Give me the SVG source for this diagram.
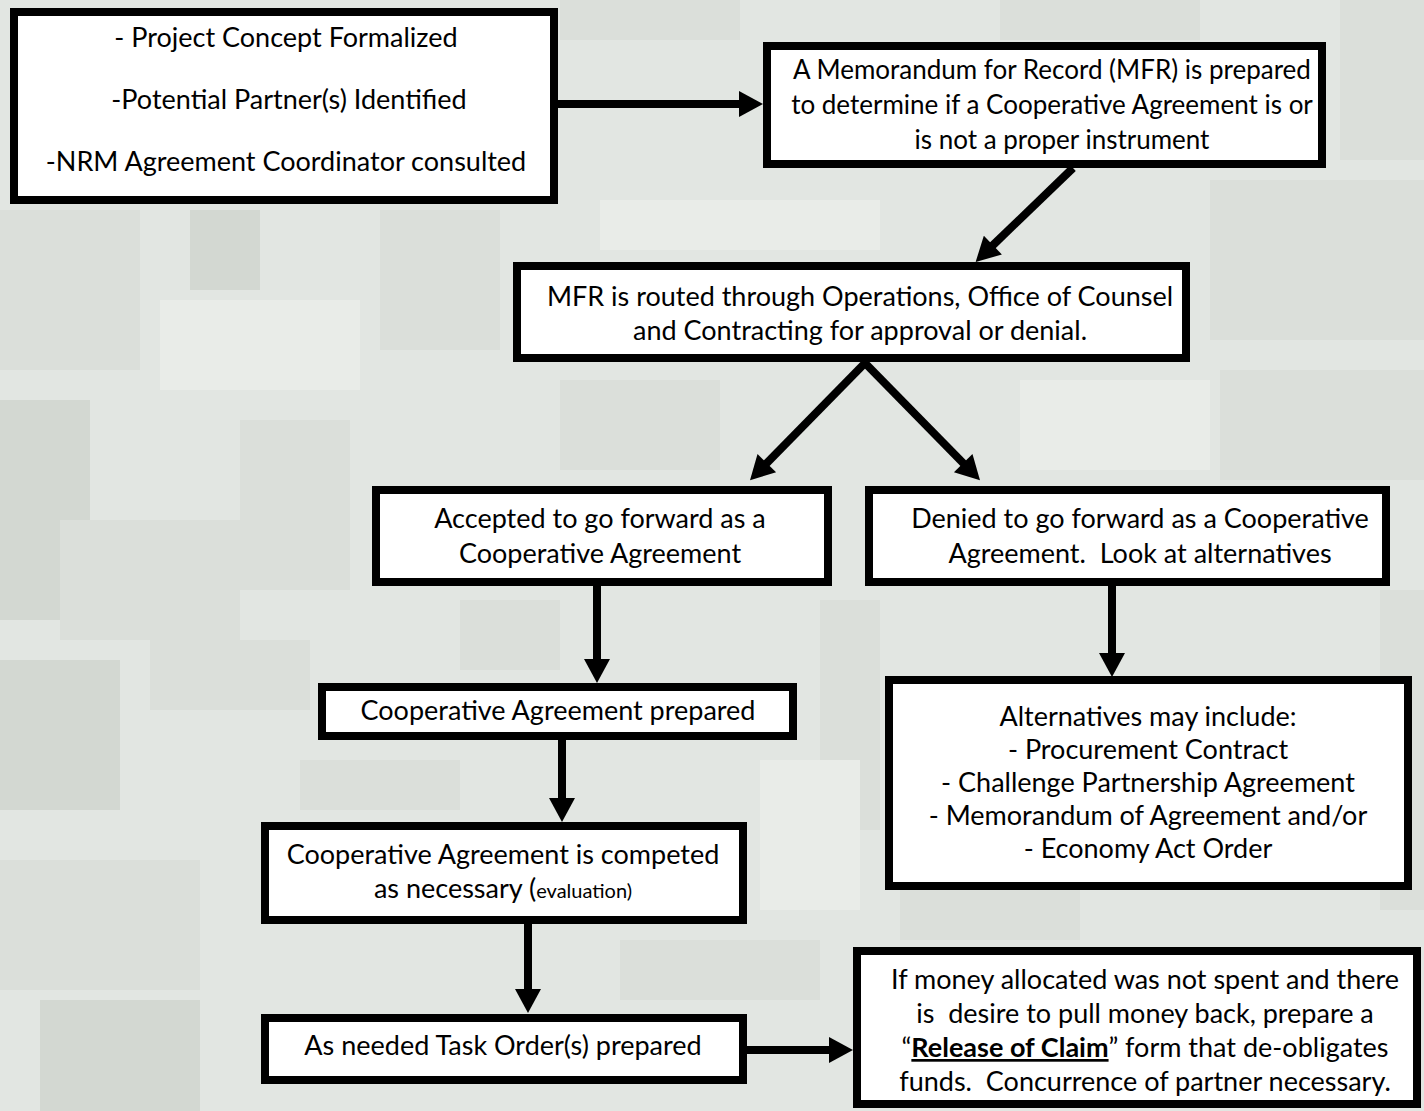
<svg xmlns="http://www.w3.org/2000/svg" width="1424" height="1111" viewBox="0 0 1424 1111">
<style>
.box{fill:#ffffff;stroke:#000000;stroke-width:8}
.t{font-family:Lato,"Open Sans","Liberation Sans",sans-serif;font-size:27px;fill:#000000;text-anchor:middle}
.s{font-size:26px}
.c{stroke:#000000;stroke-width:8;fill:none;marker-end:url(#ah)}
.d{fill:#d3d8d2}
.e{fill:#dbdfda}
.l{fill:#e9ece8}
</style>
<defs>
<marker id="ah" markerUnits="userSpaceOnUse" markerWidth="26" markerHeight="26" viewBox="0 0 24 26" refX="4" refY="13" orient="auto">
<path d="M0,0 L24,13 L0,26 z" fill="#000000"/>
</marker>
</defs>
<g id="background">
<rect x="0" y="0" width="1424" height="1111" fill="#e2e6e2"/>
<rect class="e" x="0" y="210" width="140" height="160"/>
<rect class="d" x="0" y="400" width="90" height="220"/>
<rect class="e" x="60" y="520" width="180" height="120"/>
<rect class="d" x="0" y="660" width="120" height="150"/>
<rect class="e" x="150" y="640" width="160" height="70"/>
<rect class="e" x="0" y="860" width="200" height="130"/>
<rect class="d" x="40" y="1000" width="160" height="111"/>
<rect class="l" x="160" y="300" width="200" height="90"/>
<rect class="e" x="240" y="420" width="110" height="170"/>
<rect class="e" x="300" y="760" width="160" height="50"/>
<rect class="l" x="600" y="200" width="280" height="50"/>
<rect class="e" x="380" y="210" width="120" height="140"/>
<rect class="e" x="560" y="380" width="160" height="90"/>
<rect class="e" x="820" y="600" width="60" height="230"/>
<rect class="l" x="760" y="760" width="100" height="150"/>
<rect class="e" x="620" y="940" width="200" height="60"/>
<rect class="e" x="1210" y="180" width="214" height="160"/>
<rect class="e" x="1340" y="0" width="84" height="160"/>
<rect class="e" x="1220" y="370" width="204" height="110"/>
<rect class="l" x="1020" y="380" width="190" height="90"/>
<rect class="e" x="1380" y="590" width="44" height="320"/>
<rect class="e" x="900" y="890" width="180" height="50"/>
<rect class="e" x="560" y="0" width="180" height="40"/>
<rect class="e" x="1000" y="0" width="200" height="40"/>
<rect class="d" x="190" y="210" width="70" height="80"/>
<rect class="e" x="460" y="600" width="100" height="70"/>
</g>
<g id="connectors">
<line class="c" x1="558" y1="104" x2="743" y2="104"/>
<line class="c" x1="1073" y1="168" x2="990" y2="248"/>
<line class="c" x1="866" y1="362" x2="764" y2="466"/>
<line class="c" x1="864" y1="362" x2="966" y2="466"/>
<line class="c" x1="597" y1="586" x2="597" y2="663"/>
<line class="c" x1="1112" y1="586" x2="1112" y2="657"/>
<line class="c" x1="562" y1="740" x2="562" y2="802"/>
<line class="c" x1="528" y1="924" x2="528" y2="993"/>
<line class="c" x1="747" y1="1050" x2="833" y2="1050"/>
</g>
<g id="n1">
<rect class="box" x="14" y="12" width="540" height="188"/>
<text class="t" x="286" y="47">- Project Concept Formalized</text>
<text class="t" x="289" y="109">-Potential Partner(s) Identified</text>
<text class="t" x="286" y="171">-NRM Agreement Coordinator consulted</text>
</g>
<g id="n2">
<rect class="box" x="767" y="46" width="555" height="118"/>
<text class="t s" x="1052" y="79">A Memorandum for Record (MFR) is prepared</text>
<text class="t s" x="1052" y="114">to determine if a Cooperative Agreement is or</text>
<text class="t s" x="1062" y="149">is not a proper instrument</text>
</g>
<g id="n3">
<rect class="box" x="517" y="266" width="669" height="92"/>
<text class="t" x="860" y="306">MFR is routed through Operations, Office of Counsel</text>
<text class="t" x="860" y="340">and Contracting for approval or denial.</text>
</g>
<g id="n4">
<rect class="box" x="376" y="490" width="452" height="92"/>
<text class="t" x="600" y="528">Accepted to go forward as a</text>
<text class="t" x="600" y="563">Cooperative Agreement</text>
</g>
<g id="n5">
<rect class="box" x="869" y="490" width="517" height="92"/>
<text class="t" x="1140" y="528">Denied to go forward as a Cooperative</text>
<text class="t" x="1140" y="563" xml:space="preserve">Agreement.  Look at alternatives</text>
</g>
<g id="n6">
<rect class="box" x="322" y="687" width="471" height="49"/>
<text class="t" x="558" y="720">Cooperative Agreement prepared</text>
</g>
<g id="n7">
<rect class="box" x="889" y="680" width="519" height="206"/>
<text class="t" x="1148" y="726">Alternatives may include:</text>
<text class="t" x="1148" y="759">- Procurement Contract</text>
<text class="t" x="1148" y="792">- Challenge Partnership Agreement</text>
<text class="t" x="1148" y="825">- Memorandum of Agreement and/or</text>
<text class="t" x="1148" y="858">- Economy Act Order</text>
</g>
<g id="n8">
<rect class="box" x="265" y="826" width="478" height="94"/>
<text class="t" x="503" y="864">Cooperative Agreement is competed</text>
<text class="t" x="503" y="898">as necessary (<tspan font-size="20px">evaluation)</tspan></text>
</g>
<g id="n9">
<rect class="box" x="265" y="1018" width="478" height="62"/>
<text class="t" x="503" y="1055">As needed Task Order(s) prepared</text>
</g>
<g id="n10">
<rect class="box" x="857" y="951" width="560" height="153"/>
<text class="t" x="1145" y="989">If money allocated was not spent and there</text>
<text class="t" x="1145" y="1023" xml:space="preserve">is  desire to pull money back, prepare a</text>
<text class="t" x="1145" y="1057">“<tspan font-weight="bold" text-decoration="underline">Release of Claim</tspan>” form that de-obligates</text>
<text class="t" x="1145" y="1091" xml:space="preserve">funds.  Concurrence of partner necessary.</text>
</g>
</svg>
